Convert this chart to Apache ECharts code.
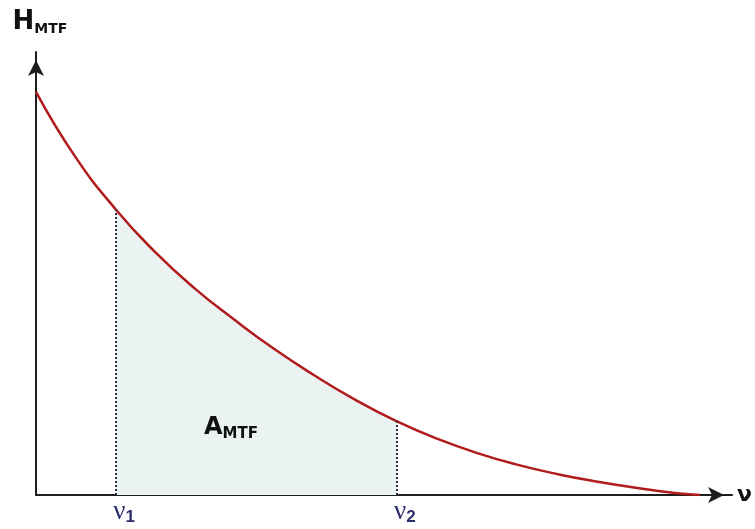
<!DOCTYPE html>
<html>
<head>
<meta charset="utf-8">
<script src="https://cdn.jsdelivr.net/npm/echarts@6/dist/echarts.min.js"></script>
<style>
html,body{margin:0;padding:0;background:#fff;}
#c{width:755px;height:529px;}
</style>
</head>
<body>
<div id="c"></div>
<script>
// spatial frequency (arbitrary units) and MTF values
const nu = [0, 0.558, 1.15, 1.702, 2.275, 2.847, 3.419, 3.991, 4.564, 5.186, 5.780, 6.352, 6.924, 7.496, 8.069, 8.641, 9.213, 9.542];
const H  = [0.910, 0.765, 0.644, 0.550, 0.467, 0.396, 0.330, 0.271, 0.217, 0.166, 0.126, 0.094, 0.068, 0.047, 0.030, 0.016, 0.004, 0];
const nu1 = 1.15;
const nu2 = 5.186;
const H1 = 0.644;
const H2 = 0.166;

const curve = nu.map((x, i) => [x, H[i]]);
const band = curve.filter(p => p[0] >= nu1 && p[0] <= nu2);

const chart = echarts.init(document.getElementById('c'), null, {renderer: 'canvas'});
const axisCol = '#1e1e1e';
const boldFont = 'DejaVu Sans';
chart.setOption({
  backgroundColor: '#ffffff',
  animation: false,
  grid: {left: 36, right: 20, top: 52, bottom: 34, containLabel: false},
  xAxis: {
    type: 'value', min: 0, max: 10,
    axisLine: {show: true, onZero: false, symbol: ['none', 'arrow'], symbolSize: [12, 16], symbolOffset: [0, -8], lineStyle: {color: axisCol, width: 2}},
    axisTick: {show: false}, axisLabel: {show: false}, splitLine: {show: false},
    name: 'ν', nameLocation: 'end', nameGap: 5,
    nameTextStyle: {color: '#111', fontSize: 22, fontWeight: 'bold', fontFamily: boldFont, padding: [4, 0, 0, 0]}
  },
  yAxis: {
    type: 'value', min: 0, max: 1,
    axisLine: {show: true, onZero: false, symbol: ['none', 'arrow'], symbolSize: [12, 16], symbolOffset: [0, -8], lineStyle: {color: axisCol, width: 2}},
    axisTick: {show: false}, axisLabel: {show: false}, splitLine: {show: false},
    name: '{h|H}{s|MTF}', nameLocation: 'end', nameGap: 16,
    nameTextStyle: {
      padding: [0, 0, 0, 8],
      rich: {
        h: {fontSize: 26, fontWeight: 'bold', fontFamily: boldFont, color: '#111', lineHeight: 28},
        s: {fontSize: 14, fontWeight: 'bold', fontFamily: boldFont, color: '#111', verticalAlign: 'bottom', lineHeight: 28}
      }
    }
  },
  series: [
    {
      type: 'line', data: band, smooth: true, symbol: 'none', silent: true,
      lineStyle: {width: 0},
      areaStyle: {color: '#eaf3f2', opacity: 1},
      z: 1
    },
    {
      type: 'line', data: curve, smooth: true, symbol: 'none', silent: true,
      lineStyle: {color: '#b01b1b', width: 2.5},
      z: 3,
      markLine: {
        silent: true, symbol: ['none', 'none'],
        lineStyle: {color: '#2a2a3a', width: 2, type: [2, 2]},
        label: {
          show: true, position: 'start', distance: 3,
          rich: {
            v: {fontSize: 27, fontFamily: 'Liberation Serif', color: '#2b2c6a', lineHeight: 28},
            s: {fontSize: 17, fontWeight: 'bold', fontFamily: 'Liberation Sans', color: '#2b2c6a', verticalAlign: 'bottom', lineHeight: 28}
          }
        },
        data: [
          [{coord: [nu1, 0], label: {formatter: '{v|ν}{s|1}', padding: [0, 0, 0, 16]}}, {coord: [nu1, H1]}],
          [{coord: [nu2, 0], label: {formatter: '{v|ν}{s|2}', padding: [0, 0, 0, 16]}}, {coord: [nu2, H2]}]
        ]
      }
    }
  ],
  graphic: [
    {
      type: 'text', left: 204, top: 416, silent: true, z: 100,
      style: {
        text: '{a|A}{s|MTF}',
        rich: {
          a: {fontSize: 24, fontWeight: 'bold', fontFamily: boldFont, fill: '#111', lineHeight: 28},
          s: {fontSize: 15, fontWeight: 'bold', fontFamily: boldFont, fill: '#111', verticalAlign: 'bottom', lineHeight: 28}
        }
      }
    }
  ]
});
</script>
</body>
</html>
